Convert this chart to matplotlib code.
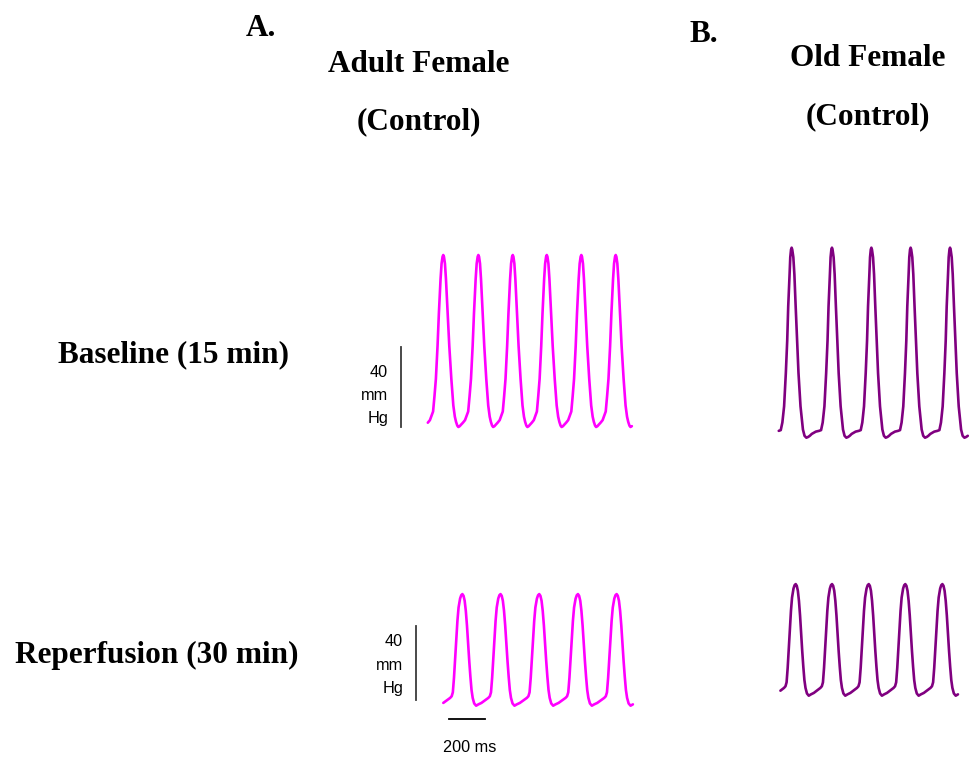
import matplotlib
matplotlib.use('Agg')
import matplotlib.pyplot as plt
import numpy as np

W, H = 972, 759
PX_PER_MS = 0.18          # horizontal scale shared by all traces

# One cardiac cycle, peak at phase 0, pressure normalised 0..1
adult_phase = [-0.50, -0.44, -0.38, -0.33, -0.29, -0.25, -0.21, -0.163, -0.125, -0.077,
               -0.048, -0.02, 0.0, 0.02, 0.048, 0.077, 0.125, 0.172, 0.23, 0.287,
               0.33, 0.364, 0.40, 0.43, 0.47]
adult_level = [0.012, 0.025, 0.04, 0.067, 0.09, 0.18, 0.28, 0.47, 0.66, 0.86,
               0.95, 0.99, 1.0, 0.99, 0.95, 0.86, 0.66, 0.47, 0.28, 0.125,
               0.06, 0.03, 0.008, 0.0, 0.005]

old_phase = [-0.50, -0.40, -0.32, -0.27, -0.23, -0.187, -0.144, -0.11, -0.085, -0.051,
             -0.034, -0.015, 0.0, 0.015, 0.042, 0.068, 0.10, 0.136, 0.17, 0.22,
             0.28, 0.32, 0.365, 0.41, 0.45]
old_level = [0.02, 0.032, 0.036, 0.04, 0.08, 0.165, 0.34, 0.51, 0.69, 0.86,
             0.95, 0.99, 1.0, 0.99, 0.95, 0.86, 0.69, 0.51, 0.34, 0.165,
             0.043, 0.01, 0.0, 0.004, 0.01]

reperf_phase = [-0.50, -0.42, -0.36, -0.32, -0.28, -0.25, -0.22, -0.19, -0.16, -0.13,
                -0.10, -0.06, -0.03, 0.0, 0.03, 0.06, 0.09, 0.12, 0.15, 0.18,
                0.21, 0.24, 0.27, 0.31, 0.36, 0.42]
reperf_level = [0.025, 0.045, 0.06, 0.07, 0.085, 0.12, 0.25, 0.42, 0.60, 0.76,
                0.88, 0.96, 0.99, 1.0, 0.985, 0.94, 0.85, 0.72, 0.56, 0.40,
                0.26, 0.14, 0.07, 0.02, 0.0, 0.012]

# Peak times (ms from trace start), trace length (ms), diastolic / systolic (mmHg)
adult_base_peaks = [92, 287, 478, 667, 859, 1050]
adult_base_end = 1146
adult_base_press = (5, 91)

old_base_peaks = [83, 307, 526, 744, 963]
old_base_end = 1078
old_base_press = (3, 98)

adult_rep_peaks = [106, 318, 533, 748, 963]
adult_rep_end = 1083
adult_rep_press = (2, 62)

old_rep_peaks = [91, 293, 497, 700, 906]
old_rep_end = 1004
old_rep_press = (2, 62)

ADULT_COLOR = '#ff00ff'
OLD_COLOR = '#800080'


def build_trace(peaks, end, press, phase, level):
    peaks = np.asarray(peaks, float)
    phase = np.asarray(phase, float)
    level = np.asarray(level, float)
    gaps = np.diff(peaks)
    before = np.concatenate([[gaps[0]], gaps])
    after = np.concatenate([gaps, [gaps[-1]]])
    t, p = [], []
    for pk, gb, ga in zip(peaks, before, after):
        span = np.where(phase < 0, gb, ga)
        t.append(pk + phase * span)
        p.append(press[0] + level * (press[1] - press[0]))
    t = np.concatenate(t)
    p = np.concatenate(p)
    keep = (t >= 0) & (t <= end)
    return t[keep], p[keep]


def overlay_axes(fig, x0, y0, p0, px_per_mmhg):
    # transparent full-figure axes where (t=0, p=p0) falls on pixel (x0, y0)
    ax = fig.add_axes([0, 0, 1, 1])
    ax.set_xlim(-x0 / PX_PER_MS, (W - x0) / PX_PER_MS)
    ax.set_ylim(p0 - (H - y0) / px_per_mmhg, p0 + y0 / px_per_mmhg)
    ax.axis('off')
    ax.patch.set_alpha(0)
    return ax


fig = plt.figure(figsize=(W / 100, H / 100), dpi=100)

serif = dict(family=['Liberation Serif', 'DejaVu Serif'], weight='bold',
             size=22.5, ha='center', va='center')
sans = dict(family=['Liberation Sans', 'DejaVu Sans'], size=11.7,
            ha='right', va='center')


def ftext(x, y, s, **kw):
    fig.text(x / W, 1 - y / H, s, **kw)


ftext(261, 28, 'A.', **serif)
ftext(419, 64, 'Adult Female', **serif)
ftext(419, 122, '(Control)', **serif)
ftext(704, 34, 'B.', **serif)
ftext(868, 59, 'Old Female', **serif)
ftext(868, 117, '(Control)', **serif)
ftext(173, 355, 'Baseline (15 min)', **serif)
ftext(157, 655, 'Reperfusion (30 min)', **serif)

traces = [
    (426.7, 427.0, 2.0, adult_base_peaks, adult_base_end, adult_base_press,
     adult_phase, adult_level, ADULT_COLOR),
    (776.7, 437.7, 2.0, old_base_peaks, old_base_end, old_base_press,
     old_phase, old_level, OLD_COLOR),
    (443.3, 705.7, 1.86, adult_rep_peaks, adult_rep_end, adult_rep_press,
     reperf_phase, reperf_level, ADULT_COLOR),
    (779.3, 695.7, 1.86, old_rep_peaks, old_rep_end, old_rep_press,
     reperf_phase, reperf_level, OLD_COLOR),
]

axes = []
for x0, y0, ppm, peaks, end, press, ph, lv, col in traces:
    ax = overlay_axes(fig, x0, y0, press[0], ppm)
    t, p = build_trace(peaks, end, press, ph, lv)
    ax.plot(t, p, color=col, lw=1.9, solid_capstyle='round', solid_joinstyle='round')
    axes.append(ax)

# 40 mmHg calibration bars
bar_kw = dict(color='#3a3a3a', lw=1.3)
axes[0].plot([-143, -143], [5, 45], **bar_kw)
axes[2].plot([-152, -152], [5, 45], **bar_kw)
# 200 ms time bar
axes[2].plot([32, 232], [-5.3, -5.3], color='black', lw=1.3)

ftext(388, 372, '40', **sans)
ftext(388, 396, 'mm', **sans)
ftext(388, 419, 'Hg', **sans)
ftext(403, 642, '40', **sans)
ftext(403, 665, 'mm', **sans)
ftext(403, 689, 'Hg', **sans)
ftext(470, 747, '200 ms', family=['Liberation Sans', 'DejaVu Sans'], size=11.7,
      ha='center', va='center')

fig.savefig('out.png', dpi=100)
